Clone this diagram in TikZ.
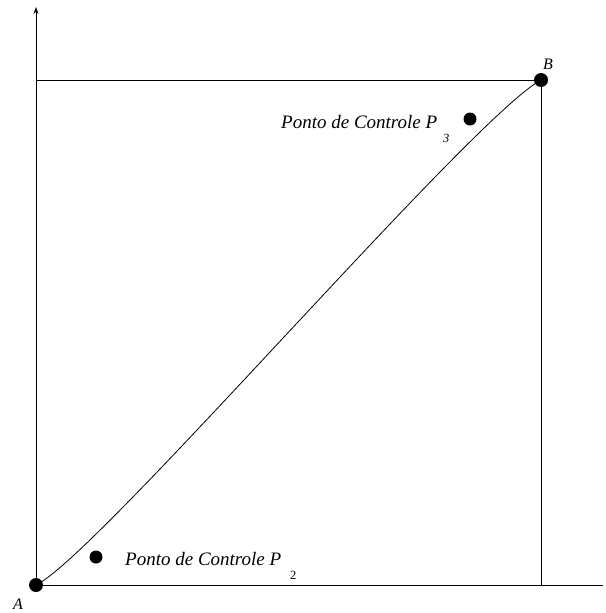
\documentclass[tikz,border=0pt]{standalone}
\usepackage{fontspec}
\setmainfont{Liberation Serif}
\usetikzlibrary{arrows.meta}
\begin{document}
\begin{tikzpicture}[x=1pt,y=-1pt,
  ln/.style={line width=0.9pt,black},
  dot/.style={circle,fill=black,inner sep=0pt,minimum size=#1},
  lbl/.style={font=\itshape\fontsize{19}{21}\selectfont,inner sep=0pt,anchor=base west},
  pt/.style={font=\itshape\fontsize{16}{18}\selectfont,inner sep=0pt}]
\useasboundingbox (0,0) rectangle (605,613);
\coordinate (O) at (36,585);
\coordinate (Ytop) at (36,7);
\coordinate (Xend) at (603,585);
\coordinate (TL) at (36,80);
\coordinate (BR) at (541,585);
\node[dot=14pt] (A) at (36,585) {};
\node[dot=14pt] (B) at (541,80) {};
\node[dot=13pt] (P2) at (96,557) {};
\node[dot=13pt] (P3) at (470,119) {};
% axes
\draw[ln,-{Stealth[length=7pt,width=5pt]}] (O) -- (Ytop);
\draw[ln] (O) -- (Xend);
% box
\draw[ln] (TL) -- (B.center) -- (BR);
% curve
\draw[line width=0.8pt] (A.center) .. controls (P2.center) and (P3.center) .. (B.center);
% labels
\node[pt] (la) at (18,604) {A};
\node[pt] (lb) at (548,64) {B};
\node[lbl] (t2) at (125,565) {Ponto de Controle P};
\node[font=\fontsize{12.5}{14}\selectfont,inner sep=0pt,anchor=base west] (s2) at (290,579) {2};
\node[lbl] (t3) at (281,128) {Ponto de Controle P};
\node[font=\itshape\fontsize{12.5}{14}\selectfont,inner sep=0pt,anchor=base west] (s3) at (443,142) {3};
\end{tikzpicture}
\end{document}
